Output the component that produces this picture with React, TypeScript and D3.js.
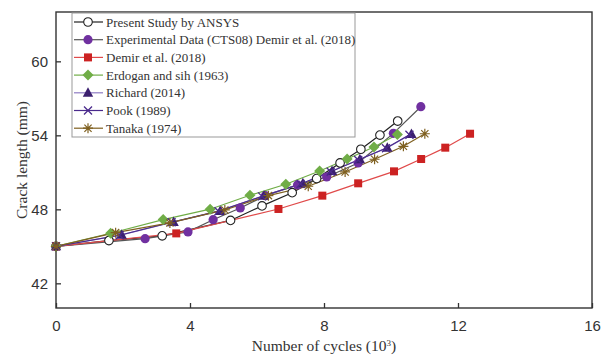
import React, { useEffect, useRef } from 'react';
import * as d3 from 'd3';

// x in 10^3 cycles, y crack length in mm
const presentX = [0, 1.58, 3.17, 5.21, 6.15, 7.05, 7.78, 8.48, 9.1, 9.67, 10.2];
const presentY = [45, 45.47, 45.85, 47.1, 48.28, 49.35, 50.49, 51.76, 52.87, 54.02, 55.16];

const expX = [0, 2.66, 3.94, 4.69, 5.5, 6.25, 7.21, 8.08, 9.02, 10.07, 10.89];
const expY = [45, 45.62, 46.17, 47.16, 48.11, 49.11, 49.98, 50.62, 51.76, 54.16, 56.32];

const demirX = [0, 3.59, 6.64, 7.95, 9.02, 10.09, 10.9, 11.62, 12.36];
const demirY = [45, 46.05, 48.03, 49.11, 50.11, 51.08, 52.08, 53.0, 54.13];

const erdoganX = [0, 1.63, 3.2, 4.6, 5.79, 6.86, 7.87, 8.69, 9.49, 10.19];
const erdoganY = [45, 46.06, 47.17, 48.01, 49.14, 50.03, 51.11, 52.08, 53.05, 54.06];

const richardX = [0, 1.96, 3.51, 4.9, 6.21, 7.37, 8.24, 9.07, 9.89, 10.61];
const richardY = [45, 45.93, 46.98, 47.87, 49.11, 50.11, 51.11, 52.06, 53.0, 54.11];

const pookX = [0, 1.9, 3.45, 4.85, 6.15, 7.3, 8.2, 9.02, 9.85, 10.55];
const pookY = [45, 45.9, 46.95, 47.85, 49.05, 50.05, 51.05, 52.0, 52.95, 54.05];

const tanakaX = [0, 1.78, 3.4, 5.04, 6.34, 7.53, 8.63, 9.51, 10.37, 11.01];
const tanakaY = [45, 46.11, 46.9, 47.95, 49.11, 49.87, 51.03, 52.06, 53.11, 54.13];

const xTicks = [0, 4, 8, 12, 16];
const yTicks = [42, 48, 54, 60];

const series = [
  { name: 'Present Study by ANSYS', xs: presentX, ys: presentY, line: '#222222', color: '#222222', marker: 'openCircle' },
  { name: 'Experimental Data (CTS08) Demir et al. (2018)', xs: expX, ys: expY, line: '#555555', color: '#7030a0', marker: 'circle' },
  { name: 'Demir et al. (2018)', xs: demirX, ys: demirY, line: '#e04a4a', color: '#cc2222', marker: 'square' },
  { name: 'Erdogan and sih (1963)', xs: erdoganX, ys: erdoganY, line: '#70ad47', color: '#70ad47', marker: 'diamond' },
  { name: 'Richard (2014)', xs: richardX, ys: richardY, line: '#8e7cc3', color: '#3b1f6e', marker: 'triangle' },
  { name: 'Pook (1989)', xs: pookX, ys: pookY, line: '#4a2a8c', color: '#4a2a8c', marker: 'cross' },
  { name: 'Tanaka (1974)', xs: tanakaX, ys: tanakaY, line: '#7f6020', color: '#7f6020', marker: 'asterisk' },
];

const drawMarker = (g, type, color) => {
  if (type === 'openCircle') {
    g.append('circle').attr('r', 4.3).attr('fill', '#fff').attr('stroke', color).attr('stroke-width', 1.1);
  } else if (type === 'circle') {
    g.append('circle').attr('r', 4.6).attr('fill', color);
  } else if (type === 'square') {
    g.append('rect').attr('x', -4).attr('y', -4).attr('width', 8).attr('height', 8).attr('fill', color);
  } else if (type === 'diamond') {
    g.append('path').attr('d', 'M0,-5.5L5.5,0L0,5.5L-5.5,0Z').attr('fill', color);
  } else if (type === 'triangle') {
    g.append('path').attr('d', 'M0,-5.5L5.2,4L-5.2,4Z').attr('fill', color);
  } else if (type === 'cross') {
    g.append('path').attr('d', 'M-4,-4L4,4M-4,4L4,-4').attr('stroke', color).attr('stroke-width', 1.3);
  } else if (type === 'asterisk') {
    g.append('path')
      .attr('d', 'M-5,0L5,0M0,-5L0,5M-3.6,-3.6L3.6,3.6M-3.6,3.6L3.6,-3.6')
      .attr('stroke', color).attr('stroke-width', 1.2);
  }
};

const App = () => {
  const svgRef = useRef();

  useEffect(() => {
    const margin = { top: 12, right: 12, bottom: 52, left: 56 };
    const W = 604, H = 360;
    const width = W - margin.left - margin.right;
    const height = H - margin.top - margin.bottom;

    d3.select(svgRef.current).selectAll('*').remove();

    const svg = d3.select(svgRef.current)
      .attr('width', W)
      .attr('height', H)
      .style('font-family', '"Liberation Serif", "Times New Roman", serif');

    const g = svg.append('g').attr('transform', `translate(${margin.left},${margin.top})`);

    const x = d3.scaleLinear().domain([0, 16]).range([0, width]);
    const y = d3.scaleLinear().domain([40, 64]).range([height, 0]);

    // Frame
    g.append('rect')
      .attr('width', width).attr('height', height)
      .attr('fill', 'none').attr('stroke', '#333').attr('stroke-width', 1.4);

    // Axes, ticks pointing inward
    g.append('g')
      .attr('transform', `translate(0,${height})`)
      .call(d3.axisBottom(x).tickValues(xTicks).tickSize(-5).tickPadding(12))
      .call(a => a.select('.domain').remove())
      .call(a => a.selectAll('.tick line').attr('stroke', '#333').attr('stroke-width', 1.3))
      .call(a => a.selectAll('.tick text').attr('fill', '#333').style('font-size', '15px').style('font-family', 'inherit'));

    g.append('g')
      .call(d3.axisLeft(y).tickValues(yTicks).tickSize(-5).tickPadding(8))
      .call(a => a.select('.domain').remove())
      .call(a => a.selectAll('.tick line').attr('stroke', '#333').attr('stroke-width', 1.3))
      .call(a => a.selectAll('.tick text').attr('fill', '#333').style('font-size', '15px').style('font-family', 'inherit'));

    // Axis titles
    const xt = svg.append('text')
      .attr('x', margin.left + width / 2)
      .attr('y', 351)
      .attr('text-anchor', 'middle')
      .attr('fill', '#333')
      .style('font-size', '15.5px');
    xt.append('tspan').text('Number of cycles (10');
    xt.append('tspan').attr('dy', -5).style('font-size', '9px').text('3');
    xt.append('tspan').attr('dy', 5).text(')');

    svg.append('text')
      .attr('transform', `translate(27,${margin.top + 148}) rotate(-90)`)
      .attr('text-anchor', 'middle')
      .attr('fill', '#333')
      .style('font-size', '15.5px')
      .text('Crack length (mm)');

    // Lines and markers
    const line = d3.line().x(d => x(d[0])).y(d => y(d[1]));

    series.forEach(s => {
      const pts = s.xs.map((v, i) => [v, s.ys[i]]);
      g.append('path')
        .datum(pts)
        .attr('fill', 'none')
        .attr('stroke', s.line)
        .attr('stroke-width', 1.2)
        .attr('d', line);
    });

    series.forEach(s => {
      s.xs.forEach((v, i) => {
        const m = g.append('g').attr('transform', `translate(${x(v)},${y(s.ys[i])})`);
        drawMarker(m, s.marker, s.color);
      });
    });

    // Legend
    const lg = svg.append('g').attr('transform', 'translate(72,13)');
    lg.append('rect')
      .attr('width', 283).attr('height', 124)
      .attr('fill', '#fff').attr('stroke', '#999').attr('stroke-width', 1);

    series.forEach((s, i) => {
      const row = lg.append('g').attr('transform', `translate(0,${9 + i * 17.7})`);
      row.append('line')
        .attr('x1', 2).attr('x2', 31).attr('y1', 0).attr('y2', 0)
        .attr('stroke', s.line).attr('stroke-width', 1.2);
      const m = row.append('g').attr('transform', 'translate(16,0)');
      drawMarker(m, s.marker, s.color);
      row.append('text')
        .attr('x', 34).attr('y', 4.5)
        .attr('fill', '#333')
        .style('font-size', '13px')
        .text(s.name);
    });
  }, []);

  return (
    <svg ref={svgRef} style={{ position: 'absolute', left: 0, top: 0 }}></svg>
  );
};

export default App;
